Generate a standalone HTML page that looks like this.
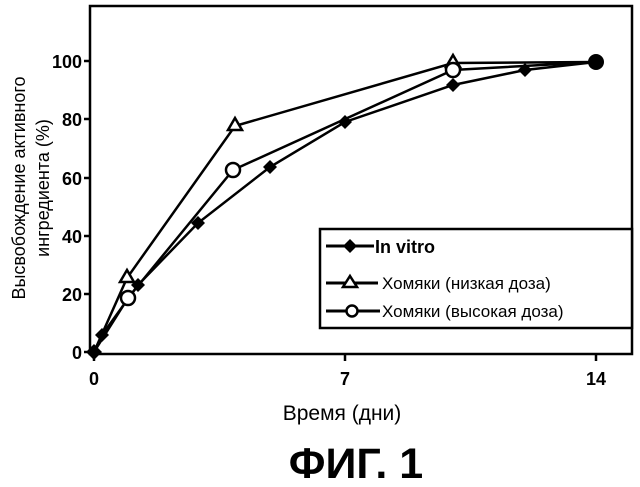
<!DOCTYPE html>
<html><head><meta charset="utf-8"><style>body{margin:0;background:#fff}svg{display:block}</style></head><body>
<svg width="640" height="487" viewBox="0 0 640 487" xmlns="http://www.w3.org/2000/svg" font-family="Liberation Sans, sans-serif">
<rect x="90" y="6" width="542" height="348" fill="none" stroke="#000" stroke-width="2.5"/>
<g stroke="#000" stroke-width="2.5">
<line x1="84" y1="61" x2="90" y2="61"/><line x1="84" y1="119" x2="90" y2="119"/><line x1="84" y1="178" x2="90" y2="178"/><line x1="84" y1="236" x2="90" y2="236"/><line x1="84" y1="294" x2="90" y2="294"/><line x1="84" y1="352" x2="90" y2="352"/>
<line x1="94" y1="354" x2="94" y2="361"/><line x1="345" y1="354" x2="345" y2="361"/><line x1="596" y1="354" x2="596" y2="361"/>
</g>
<g font-size="18" font-weight="bold" text-anchor="end">
<text x="82" y="68">100</text><text x="82" y="126">80</text><text x="82" y="185">60</text><text x="82" y="243">40</text><text x="82" y="301">20</text><text x="82" y="359">0</text>
</g>
<g font-size="18" font-weight="bold" text-anchor="middle">
<text x="94" y="385">0</text><text x="345" y="385">7</text><text x="596" y="385">14</text>
</g>
<text x="0" y="0" font-size="18" text-anchor="middle" transform="translate(25,188) rotate(-90)">Высвобождение активного</text>
<text x="0" y="0" font-size="18" text-anchor="middle" transform="translate(49,188) rotate(-90)">ингредиента (%)</text>
<text x="342" y="420" font-size="21" text-anchor="middle">Время (дни)</text>
<text x="356" y="478" font-size="43" font-weight="bold" text-anchor="middle">ФИГ. 1</text>
<g fill="none" stroke="#000" stroke-width="2.5">
<polyline points="94,352 102,335 138,285 198,223 270,167 345,122 453,85 525,70 596,62"/>
<polyline points="94,352 127,278 235,126 453,63 596,62"/>
<polyline points="94,352 128,298 233,170 453,70 596,62"/>
</g>
<g fill="#000">
<path d="M94,344 l8,8 -8,8 -8,-8z"/><path d="M102,328 l7,7 -7,7 -7,-7z"/><path d="M138,278 l7,7 -7,7 -7,-7z"/><path d="M198,216 l7,7 -7,7 -7,-7z"/><path d="M270,160 l7,7 -7,7 -7,-7z"/><path d="M345,115 l7,7 -7,7 -7,-7z"/><path d="M453,78 l7,7 -7,7 -7,-7z"/><path d="M525,63 l7,7 -7,7 -7,-7z"/><circle cx="596" cy="62" r="8"/>
</g>
<g fill="#fff" stroke="#000" stroke-width="2.5">
<path d="M127,270 l7,12 h-14z"/><path d="M235,118 l7,12 h-14z"/><path d="M453,55 l7,12 h-14z"/>
<circle cx="128" cy="298" r="7"/><circle cx="233" cy="170" r="7"/><circle cx="453" cy="70" r="7"/>
</g>
<rect x="320" y="229" width="312" height="99" fill="#fff" stroke="#000" stroke-width="2.5"/>
<g stroke="#000" stroke-width="3"><line x1="326" y1="246" x2="374" y2="246"/><line x1="326" y1="283" x2="378" y2="283"/><line x1="326" y1="311" x2="380" y2="311"/></g>
<path d="M350,239 l7,7 -7,7 -7,-7z" fill="#000"/>
<path d="M350,276 l7,11 h-14z" fill="#fff" stroke="#000" stroke-width="2.5"/>
<circle cx="352" cy="311" r="5.5" fill="#fff" stroke="#000" stroke-width="2.5"/>
<text x="375" y="253" font-size="18" font-weight="bold">In vitro</text>
<text x="382" y="289" font-size="17">Хомяки (низкая доза)</text>
<text x="382" y="317" font-size="17">Хомяки (высокая доза)</text>
</svg>
</body></html>
